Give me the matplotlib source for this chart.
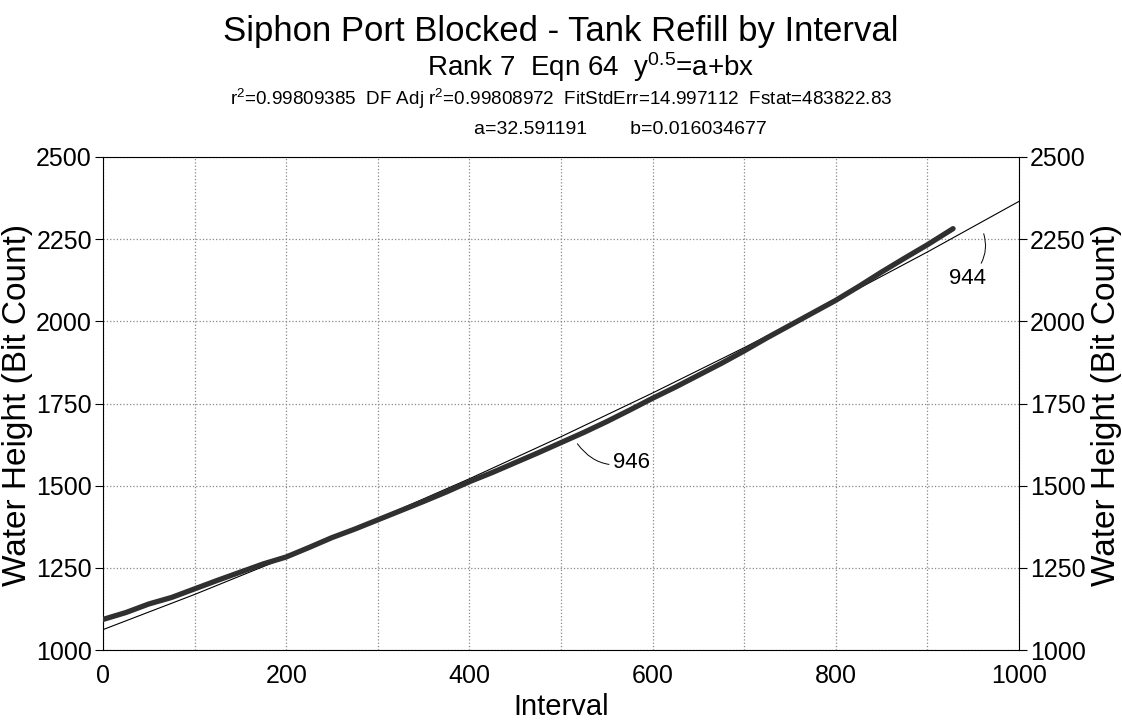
import matplotlib
matplotlib.use("Agg")
import matplotlib.pyplot as plt

plt.rcParams["font.family"] = ["Liberation Sans", "DejaVu Sans"]
plt.rcParams["mathtext.default"] = "regular"

interval = [0, 25, 50, 75, 100, 125, 150, 175, 200, 225, 250, 275, 300, 325, 350,
            375, 400, 425, 450, 475, 500, 525, 550, 575, 600, 625, 650, 675, 700,
            725, 750, 775, 800, 825, 850, 875, 900, 928]
height = [1093, 1114, 1140, 1160, 1186, 1212, 1237, 1262, 1283, 1312, 1342, 1368,
          1396, 1424, 1452, 1481, 1512, 1540, 1570, 1600, 1631, 1662, 1695, 1730,
          1766, 1800, 1836, 1872, 1910, 1950, 1988, 2026, 2064, 2106, 2150, 2192,
          2233, 2282]

# fitted curve y^0.5 = a + bx, values read at each 100
fit_x = [0, 100, 200, 300, 400, 500, 600, 700, 800, 900, 1000]
fit_y = [1062, 1169, 1282, 1399, 1521, 1649, 1782, 1920, 2063, 2211, 2365]

title = "Siphon Port Blocked - Tank Refill by Interval"
line2 = "Rank 7  Eqn 64  y${}^{0.5}$=a+bx"
line3 = ("r${}^{2}$=0.99809385  DF Adj r${}^{2}$=0.99808972  "
         "FitStdErr=14.997112  Fstat=483822.83")
line4 = "a=32.591191        b=0.016034677"
ylab = "Water Height (Bit Count)"

fig = plt.figure(figsize=(11.22, 7.2), dpi=100)
ax = fig.add_axes([103 / 1122, 70 / 720, 916 / 1122, 493 / 720])

ax.plot(fit_x, fit_y, color="black", lw=0.8, zorder=3)
ax.plot(interval, height, color="#303030", lw=3.8, solid_capstyle="round", zorder=4)

ax.set_xlim(0, 1000)
ax.set_ylim(1000, 2500)
ax.set_xticks(range(0, 1001, 200))
ax.set_xticks(range(0, 1001, 100), minor=True)
ax.set_yticks(range(1000, 2501, 250))
ax.grid(True, which="both", ls=":", color="#888888", lw=0.9)
ax.tick_params(axis="x", which="both", length=0, pad=10, labelsize=18)
ax.tick_params(axis="y", direction="out", length=6, width=0.8, pad=2, labelsize=18,
               left=True, right=True, labelleft=True, labelright=True)
for s in ax.spines.values():
    s.set_linewidth(0.8)

ax.set_xlabel("Interval", fontsize=21, labelpad=4)
fig.text(18 / 1122, 1 - 405 / 720, ylab, rotation=90, ha="center", va="center",
         fontsize=24)
fig.text(1106 / 1122, 1 - 405 / 720, ylab, rotation=90, ha="center", va="center",
         fontsize=24)

# curve labels
ax.annotate("946", xy=(517, 1631), xytext=(557, 1570), fontsize=16,
            va="center", ha="left",
            arrowprops=dict(arrowstyle="-", lw=0.7, color="black",
                            connectionstyle="arc3,rad=-0.35", shrinkA=1, shrinkB=1))
ax.annotate("944", xy=(957, 2298), xytext=(944, 2129), fontsize=16,
            va="center", ha="center",
            arrowprops=dict(arrowstyle="-", lw=0.7, color="black",
                            connectionstyle="arc3,rad=0.4", shrinkB=8))

fig.text(561 / 1122, 1 - 32 / 720, title, ha="center", va="center", fontsize=25)
fig.text(591 / 1122, 1 - 67 / 720, line2, ha="center", va="center", fontsize=20)
fig.text(561 / 1122, 1 - 99 / 720, line3, ha="center", va="center", fontsize=13.6)
fig.text(620 / 1122, 1 - 129 / 720, line4, ha="center", va="center", fontsize=14)

fig.savefig("out.png", dpi=100)
